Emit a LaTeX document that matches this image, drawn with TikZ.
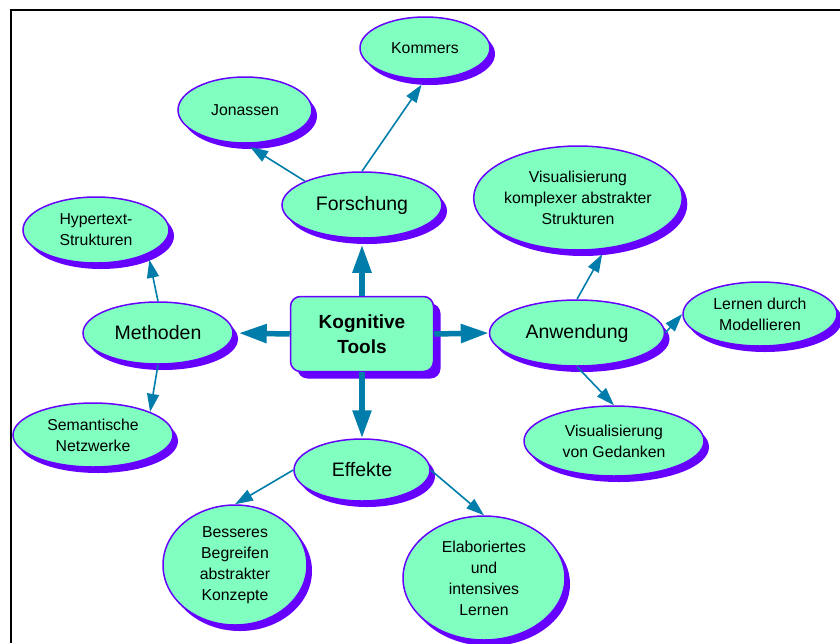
\documentclass[tikz,border=0pt]{standalone}
\usepackage{fontspec}
\setmainfont{Liberation Sans}
\usetikzlibrary{arrows.meta,shapes.geometric,shadows,positioning}

\definecolor{minze}{RGB}{128,255,192}
\definecolor{lila}{RGB}{102,0,255}
\definecolor{pfeil}{RGB}{0,125,170}

\begin{document}
\begin{tikzpicture}[x=1pt,y=-1pt,
  blase/.style={ellipse,draw=lila,line width=1.5pt,fill=minze,inner sep=0pt,
    align=center,font=\fontsize{15.8}{21}\selectfont,
    drop shadow={shadow xshift=5pt,shadow yshift=-6pt,fill=lila,opacity=1}},
  haupt/.style={blase,font=\fontsize{19.5}{22}\selectfont},
  dick/.style={draw=pfeil,line width=5.5pt,-{Triangle[length=28pt,width=18pt]}},
  duenn/.style={draw=pfeil,line width=1.6pt,-{Triangle[length=18pt,width=12pt]}}]
  \useasboundingbox (0,0) rectangle (840,643);
  \draw[line width=2pt] (11,643)--(11,10)--(840,10);

  \node[rectangle,rounded corners=10pt,draw=lila,line width=1.5pt,fill=minze,
    minimum width=143pt,minimum height=75pt,align=center,
    font=\bfseries\fontsize{19}{25}\selectfont,
    drop shadow={shadow xshift=7pt,shadow yshift=-7pt,fill=lila,opacity=1}]
    (kt) at (362,334) {Kognitive\\Tools};

  \node[haupt,minimum width=160pt,minimum height=66pt] (forschung) at (362,205) {Forschung};
  \node[haupt,minimum width=150pt,minimum height=62pt] (methoden) at (158,333) {Methoden};
  \node[haupt,minimum width=175pt,minimum height=66pt] (anwendung) at (577,333) {Anwendung};
  \node[haupt,minimum width=136pt,minimum height=62pt] (effekte) at (362,470) {Effekte};

  \node[blase,minimum width=130pt,minimum height=62pt] (kommers) at (425,48) {Kommers};
  \node[blase,minimum width=134pt,minimum height=66pt] (jonassen) at (245,110) {Jonassen};
  \node[blase,minimum width=146pt,minimum height=66pt] (hypertext) at (96,230) {Hypertext-\\Strukturen};
  \node[blase,minimum width=160pt,minimum height=64pt] (semantisch) at (93,435) {Semantische\\Netzwerke};
  \node[blase,minimum width=194pt,minimum height=104pt] (viskompl) at (578,198)
    {Visualisierung\\komplexer abstrakter\\Strukturen};
  \node[blase,minimum width=154pt,minimum height=64pt] (lernen) at (760,314) {Lernen durch\\Modellieren};
  \node[blase,minimum width=180pt,minimum height=70pt] (visged) at (614,441) {Visualisierung\\von Gedanken};
  \node[blase,minimum width=144pt,minimum height=120pt] (besseres) at (235,565)
    {Besseres\\Begreifen\\abstrakter\\Konzepte};
  \node[blase,minimum width=162pt,minimum height=124pt] (elab) at (484,578)
    {Elaboriertes\\und\\intensives\\Lernen};

  \draw[dick,shorten >=6pt] (kt.north)--(forschung.south);
  \draw[dick,shorten >=5pt] (kt.west)--(methoden.east);
  \draw[dick] (kt.east)--(anwendung.west);
  \draw[dick] (kt.south)--(effekte.north);

  \draw[duenn,shorten >=6pt] (forschung.north west)--(jonassen.south);
  \draw[duenn,shorten >=6pt] (forschung.north)--(kommers.south);
  \draw[duenn,shorten >=6pt] (methoden.north)--(hypertext.south east);
  \draw[duenn] (methoden.south)--(semantisch.north east);
  \draw[duenn,shorten >=6pt] (anwendung.north)--(viskompl.-62);
  \draw[duenn] (anwendung.east)--(lernen.west);
  \draw[duenn] (anwendung.south)--(visged.north);
  \draw[duenn] (effekte.west)--(besseres.north);
  \draw[duenn] (effekte.east)--(elab.north);
\end{tikzpicture}
\end{document}
